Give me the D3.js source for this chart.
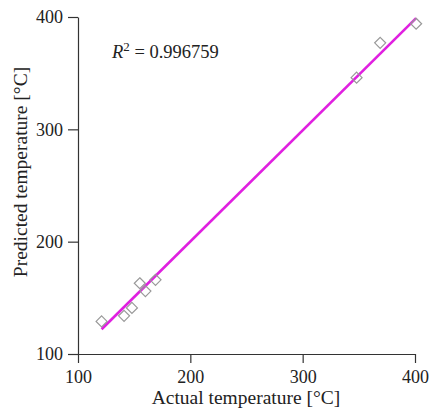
<!DOCTYPE html>
<html>
<head>
<meta charset="utf-8">
<script src="https://cdn.jsdelivr.net/npm/d3@7/dist/d3.min.js"></script>
<style>
  body { margin: 0; background: #fff; }
  text { font-family: "Liberation Serif", "Times New Roman", serif; fill: #222; }
</style>
</head>
<body>
<div id="chart"></div>
<script>
var actual = [121, 141, 148, 155, 160, 169, 348, 369, 401];
var predicted = [129, 134, 141, 163, 156, 166, 346, 377, 394];
var fitX = [121, 401];
var fitY = [122, 399];
var ticks = [100, 200, 300, 400];
var r2 = "0.996759";

var width = 429, height = 413;
var margin = { left: 78, right: 14, top: 17, bottom: 59 };

var svg = d3.select("#chart").append("svg")
  .attr("width", width)
  .attr("height", height);

var x = d3.scaleLinear().domain([100, 400]).range([margin.left, width - margin.right]);
var y = d3.scaleLinear().domain([100, 400]).range([height - margin.bottom, margin.top]);

// axes
svg.append("g")
  .attr("transform", "translate(0," + y(100) + ")")
  .call(d3.axisBottom(x).tickValues(ticks).tickSize(9).tickPadding(7).tickSizeOuter(0));
svg.append("g")
  .attr("transform", "translate(" + x(100) + ",0)")
  .call(d3.axisLeft(y).tickValues(ticks).tickSize(10).tickPadding(5).tickSizeOuter(0));

svg.selectAll(".domain, .tick line").attr("stroke", "#333").attr("stroke-width", 1.2);
svg.selectAll(".tick text")
  .style("font-family", '"Liberation Serif", serif')
  .style("font-size", "18px")
  .attr("fill", "#222");

// fit line
svg.append("line")
  .attr("x1", x(fitX[0])).attr("y1", y(fitY[0]))
  .attr("x2", x(fitX[1])).attr("y2", y(fitY[1]))
  .attr("stroke", "#e020e0")
  .attr("stroke-width", 2.6);

// points
var pts = actual.map(function (d, i) { return { a: d, p: predicted[i] }; });
svg.selectAll(".pt")
  .data(pts)
  .enter().append("path")
  .attr("class", "pt")
  .attr("d", "M0,-5.5L5.5,0L0,5.5L-5.5,0Z")
  .attr("transform", function (d) { return "translate(" + x(d.a) + "," + y(d.p) + ")"; })
  .attr("fill", "none")
  .attr("stroke", "#999")
  .attr("stroke-width", 1.2);

// labels
svg.append("text")
  .attr("x", 246)
  .attr("y", 404)
  .attr("text-anchor", "middle")
  .style("font-size", "19.5px")
  .text("Actual temperature [°C]");

svg.append("text")
  .attr("transform", "translate(27,172) rotate(-90)")
  .attr("text-anchor", "middle")
  .style("font-size", "19.5px")
  .text("Predicted temperature [°C]");

var r = svg.append("text")
  .attr("x", 112)
  .attr("y", 58)
  .style("font-size", "18.5px");
r.append("tspan").style("font-style", "italic").text("R");
r.append("tspan").attr("dy", -7).style("font-size", "13px").text("2");
r.append("tspan").attr("dy", 7).text(" = " + r2);
</script>
</body>
</html>
